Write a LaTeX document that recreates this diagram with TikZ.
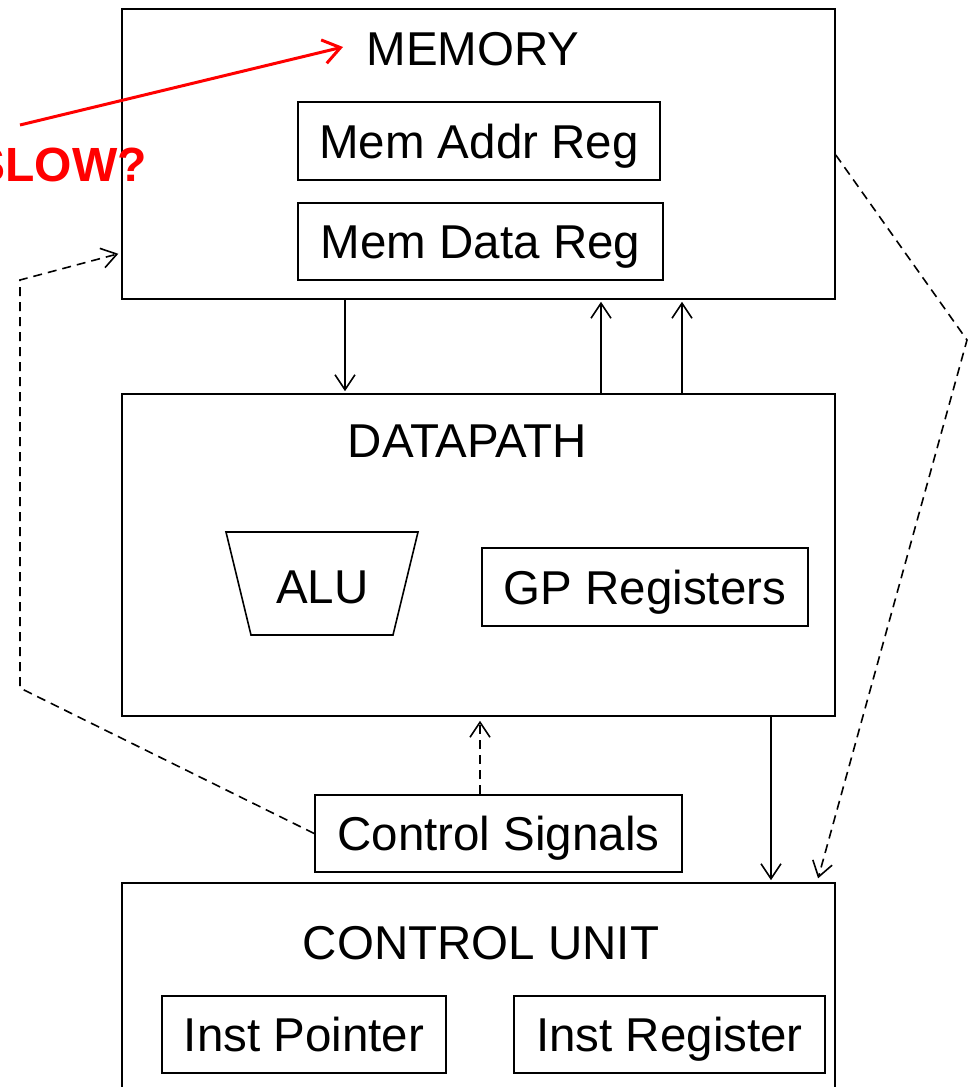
\documentclass[tikz,border=0pt]{standalone}
\usepackage{fontspec}
\setmainfont{Liberation Sans}
\usetikzlibrary{arrows.meta}
\begin{document}
\begin{tikzpicture}[x=1pt,y=-1pt,
  lbl/.style={font=\fontsize{47.5}{57}\selectfont, text height=34pt, text depth=0pt, inner sep=0pt},
  box/.style 2 args={draw, line width=1.6pt, minimum width=#1, minimum height=#2},
  arr/.style={line width=1.6pt, -{Straight Barb[length=15pt,width=20pt]}},
  darr/.style={arr, dash pattern=on 9pt off 6pt},
  redarr/.style={red, line width=3pt, -{Straight Barb[length=17pt,width=24pt]}}]
\useasboundingbox (0,0) rectangle (968,1087);
\fill[white] (0,0) rectangle (968,1087);
\clip (0,0) rectangle (968,1087);
% memory
\node[box={713}{290}] (mem) at (478.5,154) {};
\node[lbl] (memt) at (473,48.5) {MEMORY};
\node[box={362}{78}, lbl] (mar) at (479,141) {Mem Addr Reg};
\node[box={365}{77}, lbl] (mdr) at (480.5,241.5) {Mem Data Reg};
% datapath
\node[box={713}{322}] (dp) at (478.5,555) {};
\node[lbl] (dpt) at (467.5,440) {DATAPATH};
\draw[line width=1.6pt] (226,532) -- (418,532) -- (393,635) -- (251,635) -- cycle;
\node[lbl] (alu) at (322.5,586) {ALU};
\node[box={326}{78}, lbl] (gp) at (645,587) {GP Registers};
% control signals
\node[box={367}{77}, lbl] (cs) at (498.5,833.5) {Control Signals};
% control unit
\node[box={713}{220}] (cu) at (478.5,993) {};
\node[lbl] (cut) at (481,942) {CONTROL UNIT};
\node[box={284}{77}, lbl] (ip) at (304,1034.5) {Inst Pointer};
\node[box={311}{77}, lbl] (ir) at (669.5,1034.5) {Inst Register};
% x positions
\coordinate (xa) at (345,0);
\coordinate (xb) at (601,0);
\coordinate (xc) at (682,0);
\coordinate (xd) at (771,0);
\coordinate (xe) at (480,0);
\coordinate (xf) at (817,0);
% solid arrows
\draw[arr, shorten >=2pt] (xa |- mem.south) -- (xa |- dp.north);
\draw[arr, shorten >=2pt] (xb |- dp.north) -- (xb |- mem.south);
\draw[arr, shorten >=2pt] (xc |- dp.north) -- (xc |- mem.south);
\draw[arr, shorten >=2pt] (xd |- dp.south) -- (xd |- cu.north);
% dashed arrows
\draw[darr, shorten >=4pt] (xe |- cs.north) -- (xe |- dp.south);
\coordinate (l1) at (20,688);
\coordinate (l2) at (20,280);
\coordinate (m1) at (0,253);
\draw[darr, shorten >=3pt] (cs.west) -- (l1) -- (l2) -- (m1 -| mem.west);
\coordinate (r0) at (0,155);
\coordinate (r1) at (967,340);
\draw[darr, shorten >=4pt] (r0 -| mem.east) -- (r1) -- (xf |- cu.north);
% SLOW?
\coordinate (s0) at (20,125);
\coordinate (s1) at (343,47);
\draw[redarr] (s0) -- (s1);
\node[lbl, font=\fontsize{48}{57}\selectfont\bfseries, text=red, anchor=east] (slow) at (147,164) {SLOW?};
\end{tikzpicture}
\end{document}
